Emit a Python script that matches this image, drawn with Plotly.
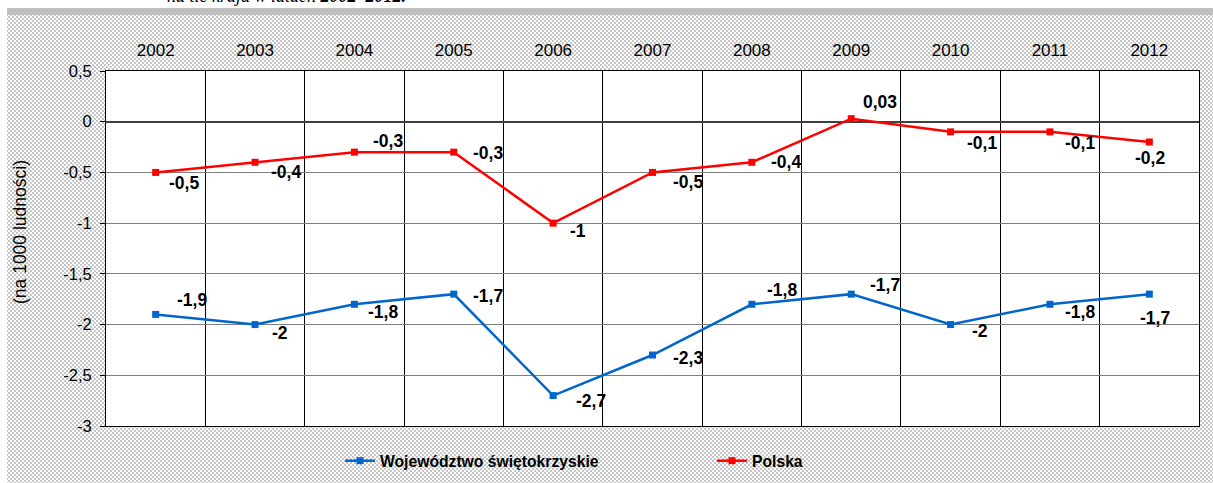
import base64
import plotly.graph_objects as go

years = ["2002", "2003", "2004", "2005", "2006", "2007", "2008", "2009", "2010", "2011", "2012"]
swietokrzyskie = [-1.9, -2.0, -1.8, -1.7, -2.7, -2.3, -1.8, -1.7, -2.0, -1.8, -1.7]
polska = [-0.5, -0.4, -0.3, -0.3, -1.0, -0.5, -0.4, 0.03, -0.1, -0.1, -0.2]
y_ticks = [0.5, 0, -0.5, -1, -1.5, -2, -2.5, -3]

# label offsets (px) – style only
blue_off = [(36, 14), (25, -8), (29, -8), (34, -2), (38, -5), (35, -3), (30, 14), (34, 9), (29, -6), (30, -8), (6, -24)]
red_off = [(28, -11), (31, -10), (34, 11), (34, -1), (25, -8), (35, -10), (34, 0), (29, 17), (31, -11), (30, -11), (1, -16)]

W, H = 1213, 483
L, R, T, B = 106, 14, 71, 57
pw, ph = W - L - R, H - T - B


def fmt(v):
    return f"{v:g}".replace(".", ",")


svg = (
    f'<svg xmlns="http://www.w3.org/2000/svg" width="{W}" height="{H}" viewBox="0 0 {W} {H}" preserveAspectRatio="none">'
    '<defs><pattern id="p" width="4" height="4" patternUnits="userSpaceOnUse">'
    '<rect width="4" height="4" fill="#ffffff"/>'
    '<rect width="2" height="2" fill="#c6c6c6"/>'
    '<rect x="2" y="2" width="2" height="2" fill="#c6c6c6"/>'
    '</pattern></defs>'
    f'<rect width="{W}" height="{H}" fill="#ffffff"/>'
    f'<rect x="7" y="15" width="{W-7}" height="{H-15}" fill="url(#p)"/>'
    f'<rect x="7" y="8" width="{W-7}" height="7" fill="#c0c0c0"/>'
    f'<rect x="{L}" y="{T}" width="{pw}" height="{ph}" fill="#ffffff"/>'
    '</svg>'
)
bg_uri = "data:image/svg+xml;base64," + base64.b64encode(svg.encode()).decode()

fig = go.Figure()
fig.add_trace(go.Scatter(
    x=years, y=swietokrzyskie, name="Województwo świętokrzyskie",
    mode="lines+markers",
    line=dict(color="#0066CC", width=2.5),
    marker=dict(symbol="square", size=7, color="#0066CC"),
))
fig.add_trace(go.Scatter(
    x=years, y=polska, name="Polska",
    mode="lines+markers",
    line=dict(color="#FF0000", width=2.5),
    marker=dict(symbol="square", size=7, color="#FF0000"),
))

annotations = []
for series, offs in ((swietokrzyskie, blue_off), (polska, red_off)):
    for i, (v, (dx, dy)) in enumerate(zip(series, offs)):
        annotations.append(dict(
            x=i, y=v, xref="x", yref="y", text=fmt(v), showarrow=False,
            xshift=dx, yshift=dy,
            font=dict(family="Liberation Sans, Arial", size=17.5, color="#000000", weight="bold"),
        ))

annotations.append(dict(
    x=(20 - L) / pw, y=1 - (232 - T) / ph, xref="paper", yref="paper",
    text="(na 1000 ludności)", showarrow=False, textangle=-90,
    xanchor="center", yanchor="middle",
    font=dict(family="Liberation Sans, Arial", size=17.5, color="#000000"),
))

annotations.append(dict(
    x=(165 - L) / pw, y=1 + (T - 8) / ph, xref="paper", yref="paper",
    xanchor="left", yanchor="bottom",
    text="<i>na tle kraju w latach </i><b><i>2002–2012.</i></b>",
    showarrow=False,
    font=dict(family="Liberation Serif, Times New Roman", size=18, color="#000000"),
))

fig.update_layout(
    width=W, height=H,
    margin=dict(l=L, r=R, t=T, b=B, autoexpand=False),
    paper_bgcolor="#ffffff",
    plot_bgcolor="#ffffff",
    images=[dict(
        source=bg_uri, xref="paper", yref="paper",
        x=-L / pw, y=1 + T / ph, sizex=W / pw, sizey=H / ph,
        xanchor="left", yanchor="top", sizing="stretch", layer="below",
    )],
    annotations=annotations,
    showlegend=True,
    legend=dict(
        orientation="h", x=(340 - L) / pw, y=-(461 - (T + ph)) / ph,
        xanchor="left", yanchor="middle",
        font=dict(family="Liberation Sans, Arial", size=15.7, color="#000000", weight="bold"),
        bgcolor="rgba(0,0,0,0)",
        entrywidth=327, entrywidthmode="pixels",
        tracegroupgap=0,
    ),
    xaxis=dict(
        type="category", side="top", tickson="boundaries",
        showgrid=True, gridcolor="#000000", gridwidth=1,
        showline=True, linecolor="#000000", linewidth=1, mirror=True,
        ticks="", ticklabelstandoff=7,
        tickfont=dict(family="Liberation Sans, Arial", size=17, color="#000000"),
        range=[-0.5, 10.5],
    ),
    yaxis=dict(
        range=[-3, 0.5], tickvals=y_ticks, ticktext=[fmt(v) for v in y_ticks],
        showgrid=True, gridcolor="#808080", gridwidth=1,
        zeroline=True, zerolinecolor="#404040", zerolinewidth=2,
        showline=True, linecolor="#000000", linewidth=1, mirror=True,
        ticks="outside", ticklen=5, tickcolor="#000000", ticklabelstandoff=5,
        tickfont=dict(family="Liberation Sans, Arial", size=16.5, color="#000000"),
    ),
)

fig.write_html("out.html", config={"displayModeBar": False},
               post_script="document.body.style.margin='0px';")
